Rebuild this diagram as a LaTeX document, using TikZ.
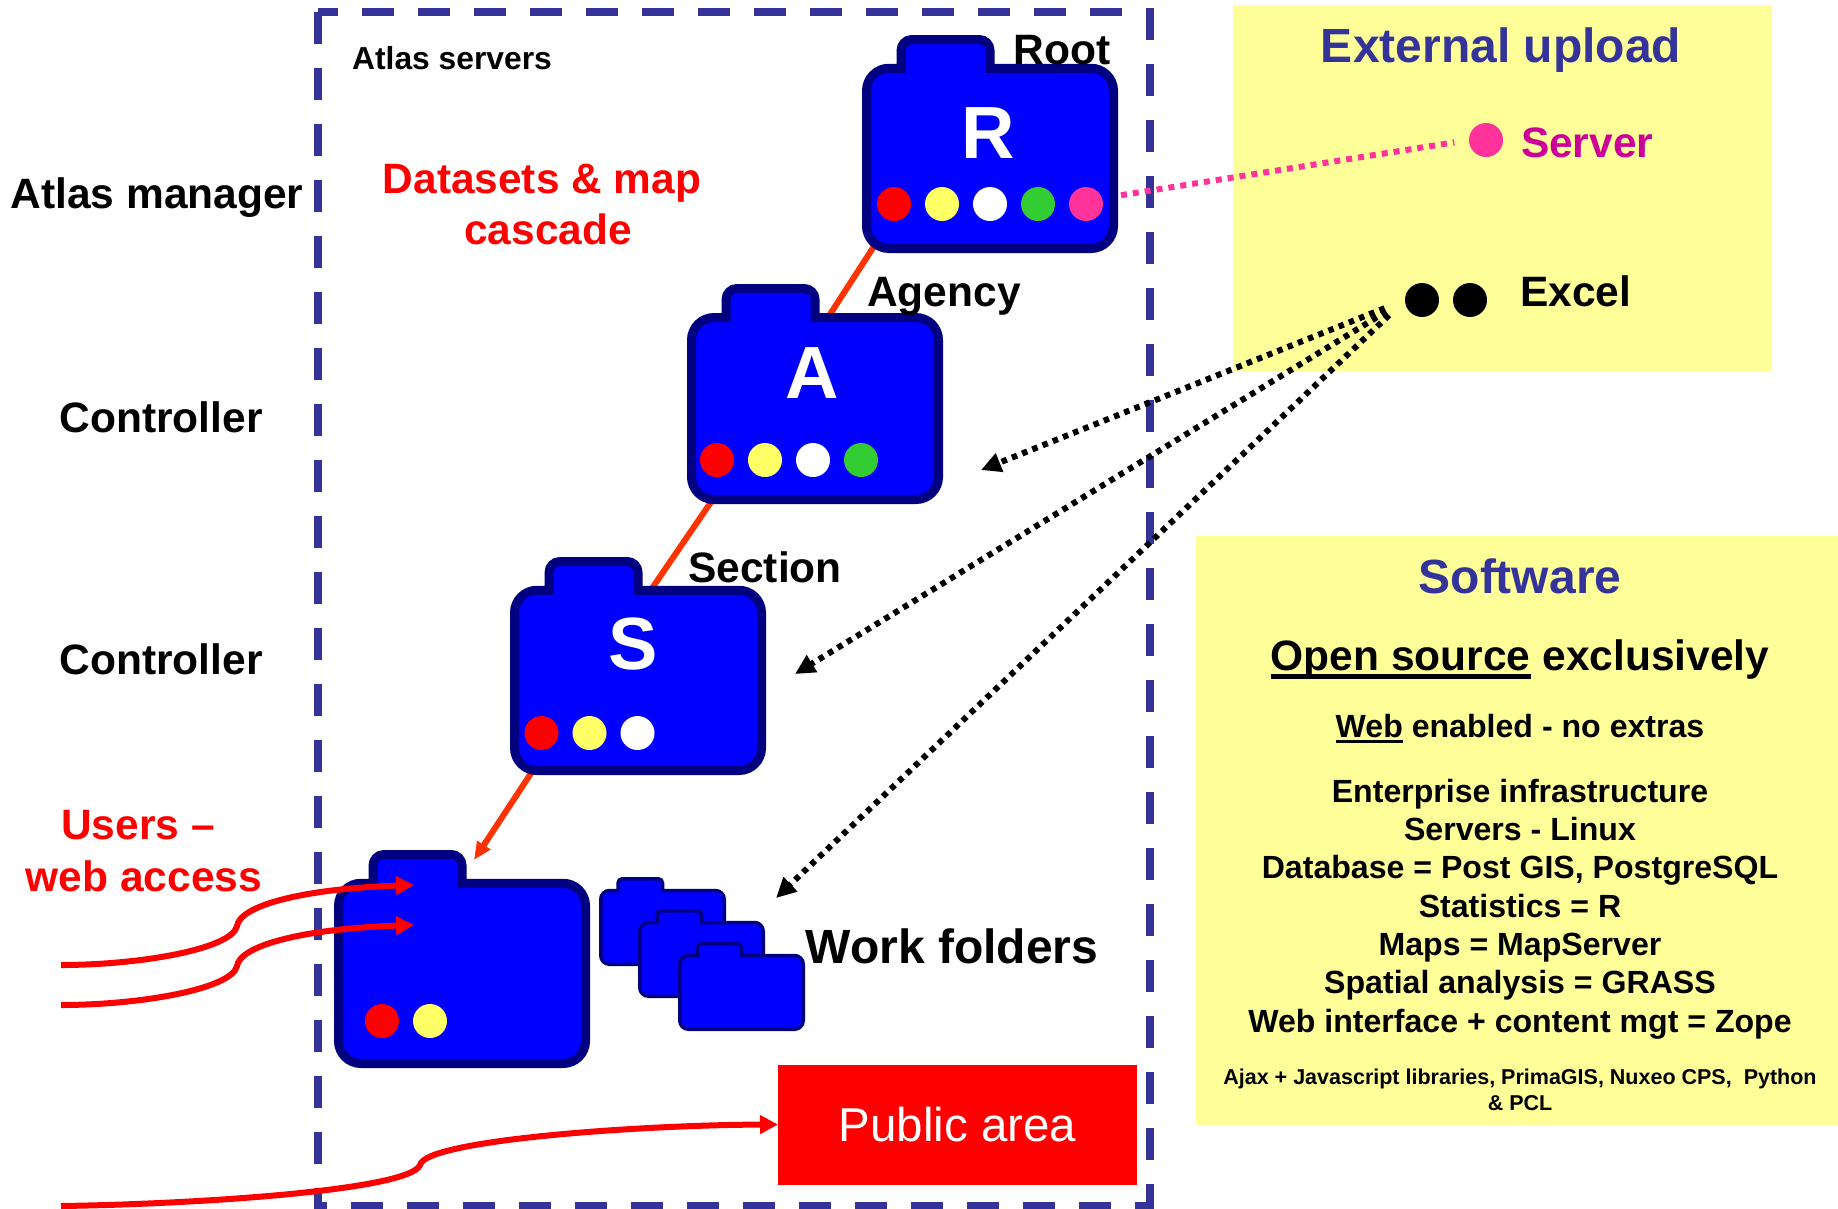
\documentclass[tikz,border=0pt]{standalone}
\usepackage{fontspec}
\setmainfont{Liberation Sans}
\usetikzlibrary{arrows.meta,backgrounds}
\definecolor{navy}{HTML}{000080}
\definecolor{boxblue}{HTML}{333399}
\definecolor{pale}{HTML}{FFFF99}
\definecolor{hotpink}{HTML}{FF3399}
\definecolor{magentatxt}{HTML}{CC0099}
\definecolor{linkred}{HTML}{FF3300}
\definecolor{dotyellow}{HTML}{FFFF66}
\definecolor{dotgreen}{HTML}{33CC33}
\tikzstyle{lbl}     = [inner sep=0, outer sep=0, anchor=base, font=\fontsize{42.5}{50}\selectfont\bfseries]
\tikzstyle{swline}  = [lbl, font=\fontsize{32.1}{38}\selectfont\bfseries]
\tikzstyle{swsmall} = [lbl, font=\fontsize{21.5}{26}\selectfont\bfseries]
\tikzstyle{letter}  = [lbl, text=white, font=\fontsize{74}{80}\selectfont\bfseries]
\tikzstyle{dot}     = [circle, inner sep=0, outer sep=0, minimum size=34]
\tikzstyle{frame}   = [boxblue, line width=8, dash pattern=on 32 off 24]
\tikzstyle{link}    = [linkred, line width=6, shorten <=-10]
\tikzstyle{web}     = [red, line width=6, -{Triangle[length=18,width=18]}]
\tikzstyle{upload}  = [black, line width=6, dash pattern=on 5.5 off 5.5, shorten <=22, -{Triangle[length=20,width=19]}]
\newcommand{\ul}[3]{\setbox0=\hbox{#3}\rlap{\vrule width\wd0 height -#1pt depth #2pt}\box0\relax}
% name, left, top, width, height, line width
\newcommand{\folder}[6]{
        \begin{scope}[shift={(#2+#6/2,#3+#6/2)},x=1pt*(#4-#6),y=-1pt*(#5-#6)]
        \draw[navy, fill=blue, line width=#6] (0,.5) [rounded corners=2.5pt*#6] -- (0,.1376) [sharp corners] -- (.14,.1376)
                [rounded corners=1.2pt*#6] -- (.14,0) -- (.5,0) [sharp corners] -- (.5,.1376)
                [rounded corners=2.5pt*#6] -- (1,.1376) -- (1,1) -- (0,1) -- (0,.5) -- cycle;
        \end{scope}
        \node[inner sep=0, outer sep=0, minimum width=1pt*#4, minimum height=.8624pt*#5] (#1) at (#2+#4/2,#3+.5688*#5) {};
}
\begin{document}
\begin{tikzpicture}[x=1pt,y=-1pt]
        \useasboundingbox (0,0) rectangle (1838,1208);

        % yellow panels
        \fill[pale] (1233,5) rectangle (1772,371);
        \fill[pale] (1196,536) rectangle (1838,1125);

        % dashed frame, one side at a time
        \draw[frame, dash phase=11.5] (317.5,12) -- (1154,12);
        \draw[frame] (317.5,12) -- (317.5,1210);
        \draw[frame] (1150,8) -- (1150,1210);
        \draw[frame, dash phase=18.5] (313.5,1206) -- (1154,1206);

        \folder{R}{862}{35}{256}{218}{9}
        \folder{A}{687}{284}{256}{220}{9}
        \folder{S}{510}{557}{256}{218}{9}
        \folder{U}{334}{850}{256}{218}{9}
        \folder{work1}{599}{877}{127}{89}{3.5}
        \folder{work2}{638}{909}{127}{89}{3.5}
        \folder{work3}{678}{942}{127}{89}{3.5}

        \coordinate (Uin) at (474,860);
        \begin{scope}[on background layer]
        \draw[link, shorten >=-10] (R.218) -- (A.81);
        \draw[link, shorten >=-10] (A.222) -- (S.81);
        \draw[link, -{Triangle[length=18,width=15]}] (S.221) -- (Uin);
        \end{scope}

        \node[letter] (Rl) at (988,158) {R};
        \node[letter] (Al) at (812,398) {A};
        \node[letter] (Sl) at (633,669) {S};

        \node[dot, fill=red] (r1) at (894,204) {};
        \node[dot, fill=dotyellow] (r2) at (942,204) {};
        \node[dot, fill=white] (r3) at (990,204) {};
        \node[dot, fill=dotgreen] (r4) at (1038,204) {};
        \node[dot, fill=hotpink] (r5) at (1086,204) {};

        \node[dot, fill=red] (a1) at (717,460) {};
        \node[dot, fill=dotyellow] (a2) at (765,460) {};
        \node[dot, fill=white] (a3) at (813,460) {};
        \node[dot, fill=dotgreen] (a4) at (861,460) {};

        \node[dot, fill=red] (s1) at (541.5,733) {};
        \node[dot, fill=dotyellow] (s2) at (589.5,733) {};
        \node[dot, fill=white] (s3) at (637.5,733) {};

        \node[dot, fill=red] (u1) at (382,1021) {};
        \node[dot, fill=dotyellow] (u2) at (430,1021) {};

        \node[lbl, font=\fontsize{31.8}{36}\selectfont\bfseries] (atlas) at (452,69) {Atlas servers};
        \node[lbl] (root) at (1062,64) {Root};
        \node[lbl] (agency) at (944,306) {Agency};
        \node[lbl] (section) at (765,582) {Section};
        \node[lbl] (manager) at (157,208) {Atlas manager};
        \node[lbl] (ctrl1) at (161,432) {Controller};
        \node[lbl] (ctrl2) at (161,674) {Controller};
        \node[lbl, text=red, font=\fontsize{42.4}{50}\selectfont\bfseries] (cascade1) at (542,193) {Datasets \& map};
        \node[lbl, text=red, font=\fontsize{42.4}{50}\selectfont\bfseries] (cascade2) at (548,244) {cascade};
        \node[lbl, text=red] (users1) at (138,839) {Users –};
        \node[lbl, text=red] (users2) at (144,891) {web access};
        \node[lbl, font=\fontsize{48}{54}\selectfont\bfseries] (workl) at (952,963) {Work folders};

        \node[rectangle, fill=red, inner sep=0, outer sep=0, minimum width=359, minimum height=120, text=white, font=\fontsize{47.5}{54}\selectfont] (public) at (957.5,1124.5) {\raisebox{-1.5pt}{Public area}};

        % upload side
        \node[lbl, text=boxblue, font=\fontsize{48}{56}\selectfont\bfseries] (external) at (1501,62) {External upload};
        \node[dot, fill=hotpink] (srv) at (1486,140) {};
        \node[lbl, anchor=base west, text=magentatxt] (server) at (1521,157) {Server};
        \node[dot, fill=black] (ex1) at (1422,300) {};
        \node[dot, fill=black] (ex2) at (1470,300) {};
        \node[lbl, anchor=base west] (excel) at (1520,306) {Excel};

        \draw[hotpink, line width=6, dash pattern=on 6 off 6, shorten <=3, shorten >=15] (R.-16.5) -- (srv.west);

        \coordinate (Atip) at (981,470);
        \coordinate (Stip) at (795,674);
        \coordinate (Wtip) at (776,898);
        \draw[upload] (ex1.west) -- (Atip);
        \draw[upload] (ex1.west) -- (Stip);
        \draw[upload] (ex1.west) -- (Wtip);

        % users coming in
        \coordinate (in1) at (61,965);
        \coordinate (in2) at (61,1005);
        \coordinate (in3) at (61,1206);
        \coordinate (U1) at (414,885);
        \coordinate (U2) at (414,925);
        \draw[web] (in1) .. controls (140,965) and (232,949) .. (237,926) .. controls (240,906) and (300,889) .. (U1);
        \draw[web] (in2) .. controls (140,1005) and (232,989) .. (237,966) .. controls (240,946) and (300,929) .. (U2);
        \draw[web] (in3) .. controls (200,1204) and (410,1190) .. (420,1165) .. controls (425,1140) and (640,1125) .. (public.west);

        % software panel
        \node[lbl, text=boxblue, font=\fontsize{48}{54}\selectfont\bfseries] (software) at (1520,593) {Software};
        \node[lbl] (open) at (1520,670) {\ul{4}{9}{Open source} exclusively};
        \node[swline] (webl) at (1520,737) {\ul{3}{6}{Web} enabled - no extras};
        \node[swline] (sw1) at (1520,802) {Enterprise infrastructure};
        \node[swline] (sw2) at (1520,840) {Servers - Linux};
        \node[swline] (sw3) at (1520,878) {Database = Post GIS, PostgreSQL};
        \node[swline] (sw4) at (1520,917) {Statistics = R};
        \node[swline] (sw5) at (1520,955) {Maps = MapServer};
        \node[swline] (sw6) at (1520,993) {Spatial analysis = GRASS};
        \node[swline] (sw7) at (1520,1032) {Web interface + content mgt = Zope};
        \node[swsmall] (sw8) at (1520,1084) {Ajax + Javascript libraries, PrimaGIS, Nuxeo CPS,\ \ Python};
        \node[swsmall] (sw9) at (1520,1110) {\& PCL};
\end{tikzpicture}
\end{document}
